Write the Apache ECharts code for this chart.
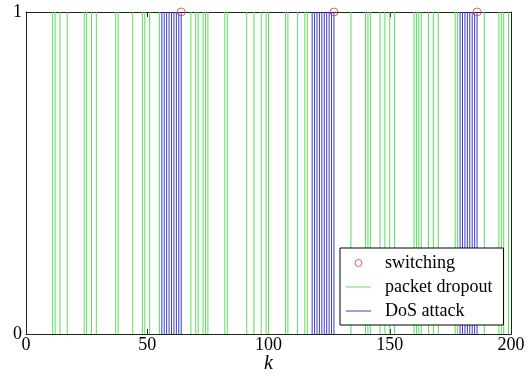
<!DOCTYPE html>
<html>
<head>
<meta charset="utf-8">
<script src="https://cdn.jsdelivr.net/npm/echarts@6/dist/echarts.min.js"></script>
<style>
html,body{margin:0;padding:0;background:#fff;}
#c{width:531px;height:381px;}
</style>
</head>
<body>
<div id="c"></div>
<script>
const xTicks = [0, 50, 100, 150, 200];
const yTicks = [0, 1];
const dropoutK = [11,12,14,17,24,25,27,29,37,38,44,48,49,51,55,68,70,71,73,74,75,82,83,91,94,97,99,100,107,108,112,115,116,134,140,141,142,146,148,150,152,160,161,162,163,166,168,170,177,178,189,195,196,197,199];
const dosK = [56,57,58,59,60,61,62,63,64,118,119,120,121,122,123,124,125,126,127,179,180,181,182,183,184,185,186];
const switchK = [64, 127, 186];
const switchVal = [1, 1, 1];
const seriesNames = ['switching', 'packet dropout', 'DoS attack'];

const GREEN = '#5ade5a';
const BLUE = '#3c3cd0';
const RED = '#e03a3a';
const FONT = 'Liberation Serif';

function vline(color) {
  return function (params, api) {
    const k = api.value(0);
    const p0 = api.coord([k, 0]);
    const p1 = api.coord([k, 1]);
    return {
      type: 'line',
      shape: { x1: p0[0], y1: p0[1], x2: p1[0], y2: p1[1] },
      style: { stroke: color, lineWidth: 1 }
    };
  };
}

const chart = echarts.init(document.getElementById('c'), null, { renderer: 'canvas' });
const axisLine = { show: true, onZero: false, lineStyle: { color: '#222', width: 1 } };
chart.setOption({
  backgroundColor: '#fff',
  animation: false,
  grid: { left: 26, right: 20, top: 12, bottom: 47, containLabel: false, outerBoundsMode: 'none' },
  xAxis: [{
    type: 'value', min: xTicks[0], max: xTicks[xTicks.length - 1], interval: 50,
    axisLine: axisLine,
    axisTick: { show: true, inside: true, length: 5, lineStyle: { color: '#222' } },
    axisLabel: { margin: 2, fontFamily: FONT, fontSize: 18, color: '#000' },
    splitLine: { show: false },
    name: 'k', nameLocation: 'middle', nameGap: 20, nameMoveOverlap: false,
    nameTextStyle: { fontFamily: FONT, fontSize: 20, fontStyle: 'italic', color: '#000' }
  }, {
    type: 'value', position: 'top', min: xTicks[0], max: xTicks[xTicks.length - 1], interval: 50,
    axisLine: axisLine,
    axisTick: { show: true, inside: true, length: 5, lineStyle: { color: '#222' } },
    axisLabel: { show: false }, splitLine: { show: false }
  }],
  yAxis: [{
    type: 'value', min: yTicks[0], max: yTicks[1], interval: 1,
    axisLine: axisLine,
    axisTick: { show: false },
    axisLabel: { margin: 4, fontFamily: FONT, fontSize: 18, color: '#000' },
    splitLine: { show: false }
  }, {
    type: 'value', position: 'right', min: yTicks[0], max: yTicks[1], interval: 1,
    axisLine: axisLine, axisTick: { show: false },
    axisLabel: { show: false }, splitLine: { show: false }
  }],
  legend: {
    orient: 'vertical', left: 340, top: 248,
    backgroundColor: '#fff', borderColor: '#000', borderWidth: 1, borderRadius: 0,
    padding: [6, 11, 5, 6], itemWidth: 25, itemHeight: 7, itemGap: 6,
    textStyle: { fontFamily: FONT, fontSize: 18, lineHeight: 18, color: '#000', padding: [0, 0, 0, 9] },
    data: [
      { name: seriesNames[0], icon: 'circle', itemStyle: { color: 'rgba(255,255,255,0)', borderColor: RED, borderWidth: 1 } },
      { name: seriesNames[1], icon: 'path://M0,0L25,0L25,1L0,1Z', itemStyle: { color: GREEN, borderWidth: 0 } },
      { name: seriesNames[2], icon: 'path://M0,0L25,0L25,1L0,1Z', itemStyle: { color: BLUE, borderWidth: 0 } }
    ]
  },
  series: [{
    name: seriesNames[1], type: 'custom', z: 2,
    itemStyle: { color: GREEN },
    renderItem: vline(GREEN),
    encode: { x: 0, y: 1 },
    data: dropoutK.map(k => [k, 1])
  }, {
    name: seriesNames[2], type: 'custom', z: 3,
    itemStyle: { color: BLUE },
    renderItem: vline(BLUE),
    encode: { x: 0, y: 1 },
    data: dosK.map(k => [k, 1])
  }, {
    name: seriesNames[0], type: 'scatter', z: 5, clip: false,
    symbol: 'circle', symbolSize: 8,
    itemStyle: { color: 'rgba(255,255,255,0)', borderColor: RED, borderWidth: 1 },
    data: switchK.map((k, i) => [k, switchVal[i]])
  }]
});
</script>
</body>
</html>
